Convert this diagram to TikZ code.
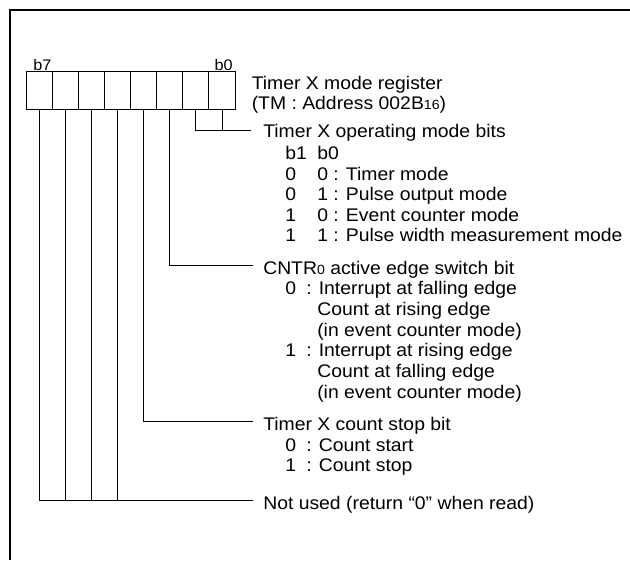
\documentclass[tikz,border=0pt]{standalone}
\usepackage{fontspec}
\setmainfont[FakeStretch=1.06]{Liberation Sans}
\newcommand{\subsz}{\fontsize{10}{10}\selectfont}
\begin{document}
\begin{tikzpicture}[x=0.75pt,y=-0.75pt,
  every node/.style={inner sep=0pt},
  txt/.style={anchor=base west, font=\fontsize{13.7}{16}\selectfont},
  bitlbl/.style={font=\fontsize{11.5}{13}\selectfont},
  cell/.style={draw, line width=0.75pt, minimum width=19.53pt, minimum height=28.7pt},
  wire/.style={line width=0.75pt},
  frame/.style={line width=2pt}]
\useasboundingbox (0,0) rectangle (630,560);
\draw[frame] (10,560) -- (10,10) -- (630,10);

% register cells b7 .. b0
\node[cell] (bit7) at (39.72,90.85) {};
\node[cell] (bit6) at (65.76,90.85) {};
\node[cell] (bit5) at (91.80,90.85) {};
\node[cell] (bit4) at (117.84,90.85) {};
\node[cell] (bit3) at (143.88,90.85) {};
\node[cell] (bit2) at (169.92,90.85) {};
\node[cell] (bit1) at (195.96,90.85) {};
\node[cell] (bit0) at (222.00,90.85) {};
\node[bitlbl, anchor=base west] (lb7) at (33,70) {b7};
\node[bitlbl, anchor=base east] (lb0) at (233,70) {b0};

% title
\node[txt] (title) at (251.5,89.3) {Timer X mode register};
\node[txt] (addr) at (251.5,109.5) {(TM : Address 002B{\subsz 16})};

% operating mode bits
\node[txt] (opbits) at (263,137.5) {Timer X operating mode bits};
\node[txt] (hb1) at (285,159.5) {b1};
\node[txt] (hb0) at (317,159.5) {b0};
\node[txt] (r1a) at (285,180) {0};
\node[txt] (r1b) at (317,180) {0 : Timer mode};
\node[txt] (r2a) at (285,200.5) {0};
\node[txt] (r2b) at (317,200.5) {1 : Pulse output mode};
\node[txt] (r3a) at (285,221) {1};
\node[txt] (r3b) at (317,221) {0 : Event counter mode};
\node[txt] (r4a) at (285,241.5) {1};
\node[txt] (r4b) at (317,241.5) {1 : Pulse width measurement mode};

% CNTR0 edge switch bit
\node[txt] (cntr) at (263,274) {CNTR{\subsz 0} active edge switch bit};
\node[txt] (e0v) at (285,294.7) {0};
\node[txt] (e0t) at (306,294.7) {: Interrupt at falling edge};
\node[txt] (e0u) at (317,315.4) {Count at rising edge};
\node[txt] (e0w) at (317,336) {(in event counter mode)};
\node[txt] (e1v) at (285,356.8) {1};
\node[txt] (e1t) at (306,356.8) {: Interrupt at rising edge};
\node[txt] (e1u) at (317,377.5) {Count at falling edge};
\node[txt] (e1w) at (317,398.2) {(in event counter mode)};

% count stop bit
\node[txt] (stop) at (263,430) {Timer X count stop bit};
\node[txt] (s0v) at (285,451) {0};
\node[txt] (s0t) at (306,451) {: Count start};
\node[txt] (s1v) at (285,471.7) {1};
\node[txt] (s1t) at (306,471.7) {: Count stop};

% not used
\node[txt] (nu) at (263,509) {Not used (return “0” when read)};

% connector ends
\coordinate (endop) at (251,130);
\coordinate (endcn) at (253,265);
\coordinate (endst) at (253,421.7);
\coordinate (endnu) at (253,500);

\draw[wire] (bit1.south) |- (endop);
\draw[wire] (bit0.south) -- (bit0.south |- endop);
\draw[wire] (bit2.south) |- (endcn);
\draw[wire] (bit3.south) |- (endst);
\draw[wire] (bit7.south) |- (endnu);
\draw[wire] (bit6.south) -- (bit6.south |- endnu);
\draw[wire] (bit5.south) -- (bit5.south |- endnu);
\draw[wire] (bit4.south) -- (bit4.south |- endnu);
\end{tikzpicture}
\end{document}
